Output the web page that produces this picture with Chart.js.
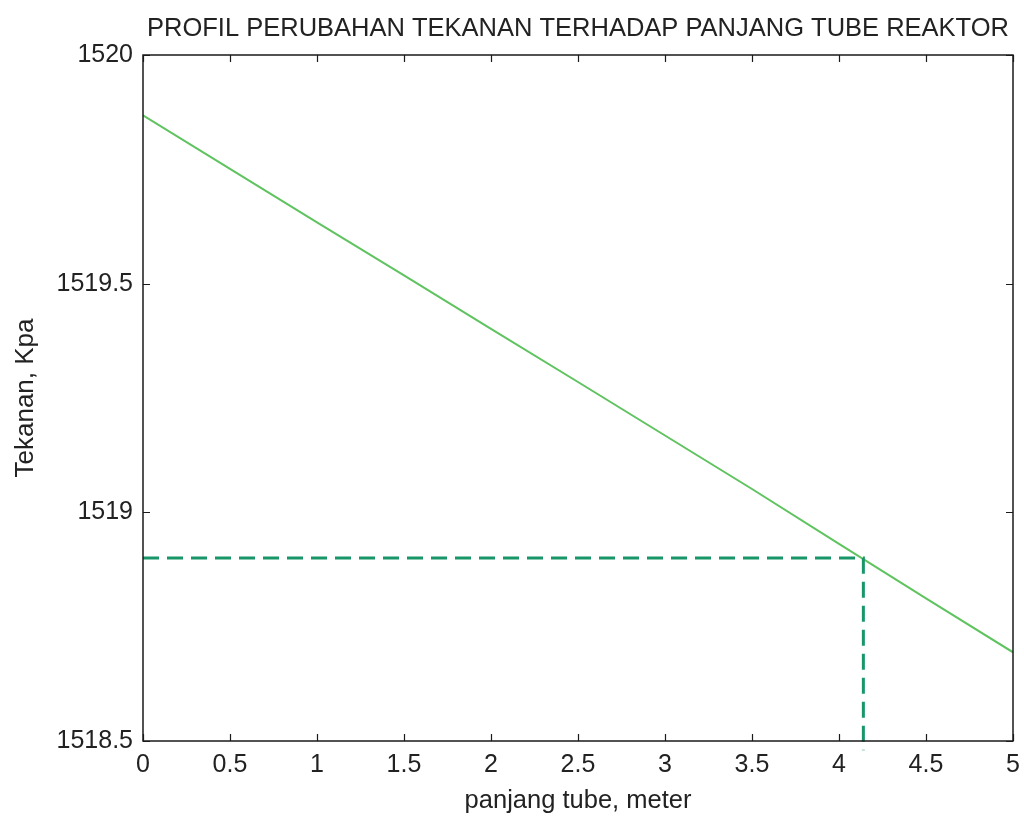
<!DOCTYPE html>
<html>
<head>
<meta charset="utf-8">
<title>Profil Perubahan Tekanan</title>
<script src="https://cdn.jsdelivr.net/npm/chart.js@4.4.1/dist/chart.umd.min.js"></script>
<style>
  html, body { margin: 0; padding: 0; background: #ffffff; }
  #wrap { width: 1024px; height: 816px; }
</style>
</head>
<body>
<div id="wrap"><canvas id="c" width="1024" height="816"></canvas></div>
<script>
// Pressure along the reactor tube
const panjangTube = [0, 0.5, 1, 1.5, 2, 2.5, 3, 3.5, 4, 4.5, 5];
const tekanan = [1519.868, 1519.751, 1519.634, 1519.518, 1519.401, 1519.285,
                 1519.168, 1519.051, 1518.931, 1518.812, 1518.694];

// Reference marker: outlet length where pressure reaches 1518.9 kPa
const markerX = [0, 4.14, 4.14];
const markerY = [1518.9, 1518.9, 1518.48];

const xTickLabels = ['0', '0.5', '1', '1.5', '2', '2.5', '3', '3.5', '4', '4.5', '5'];
const yTickLabels = ['1518.5', '1519', '1519.5', '1520'];
const xTickValues = [0, 0.5, 1, 1.5, 2, 2.5, 3, 3.5, 4, 4.5, 5];
const yTickValues = [1518.5, 1519, 1519.5, 1520];

const judul = 'PROFIL PERUBAHAN TEKANAN TERHADAP PANJANG TUBE REAKTOR';
const FONT = '"Liberation Sans", Arial, sans-serif';
const INK = '#222222';

// Boxed axes with inward tick marks on all four sides, plus the title
const boxPlugin = {
  id: 'boxAxes',
  afterDatasetsDraw(chart) {
    const { ctx, chartArea: a, scales } = chart;
    const x = scales.x, y = scales.y;
    const L = 7;
    ctx.save();
    ctx.strokeStyle = '#1a1a1a';
    ctx.lineWidth = 1.5;
    ctx.strokeRect(a.left, a.top, a.right - a.left, a.bottom - a.top);
    ctx.lineWidth = 1.2;
    ctx.beginPath();
    xTickValues.forEach(v => {
      const px = Math.round(x.getPixelForValue(v)) + 0.5;
      ctx.moveTo(px, a.bottom); ctx.lineTo(px, a.bottom - L);
      ctx.moveTo(px, a.top); ctx.lineTo(px, a.top + L);
    });
    yTickValues.forEach(v => {
      const py = Math.round(y.getPixelForValue(v)) + 0.5;
      ctx.moveTo(a.left, py); ctx.lineTo(a.left + L, py);
      ctx.moveTo(a.right, py); ctx.lineTo(a.right - L, py);
    });
    ctx.stroke();
    ctx.restore();
  },
  afterDraw(chart) {
    const { ctx, chartArea: a } = chart;
    ctx.save();
    ctx.fillStyle = INK;
    ctx.font = '25.5px ' + FONT;
    ctx.textAlign = 'center';
    ctx.textBaseline = 'middle';
    ctx.fillText(judul, (a.left + a.right) / 2, 29);
    ctx.restore();
  }
};

new Chart(document.getElementById('c'), {
  type: 'line',
  data: {
    datasets: [
      {
        label: 'Tekanan',
        data: panjangTube.map((v, i) => ({ x: v, y: tekanan[i] })),
        borderColor: 'rgb(95, 195, 95)',
        borderWidth: 2,
        pointRadius: 0,
        tension: 0,
        order: 2
      },
      {
        label: 'Penanda',
        data: markerX.map((v, i) => ({ x: v, y: markerY[i] })),
        borderColor: 'rgb(25, 150, 105)',
        borderWidth: 3,
        borderDash: [16, 8],
        pointRadius: 0,
        tension: 0,
        clip: false,
        order: 1
      }
    ]
  },
  options: {
    responsive: false,
    animation: false,
    devicePixelRatio: 1,
    layout: { padding: { left: 0, right: 11, top: 55, bottom: 0 } },
    plugins: {
      legend: { display: false },
      tooltip: { enabled: false },
      title: { display: false }
    },
    scales: {
      x: {
        type: 'linear',
        min: 0, max: 5,
        afterBuildTicks(scale) { scale.ticks = xTickValues.map(v => ({ value: v })); },
        afterFit(scale) {
          scale.height = 75;
          scale.paddingLeft = 0;
          scale.paddingRight = 0;
        },
        grid: { display: false, drawTicks: false },
        border: { display: false },
        ticks: {
          padding: 9,
          color: INK,
          font: { family: FONT, size: 25 },
          maxRotation: 0,
          autoSkip: false,
          callback: (v, i) => xTickLabels[i]
        },
        title: {
          display: true,
          text: 'panjang tube, meter',
          color: INK,
          font: { family: FONT, size: 25.5 },
          padding: { top: 0, bottom: 0 }
        }
      },
      y: {
        type: 'linear',
        min: 1518.5, max: 1520,
        afterBuildTicks(scale) { scale.ticks = yTickValues.map(v => ({ value: v })); },
        afterFit(scale) {
          scale.width = 143;
          scale.paddingTop = 0;
          scale.paddingBottom = 0;
        },
        grid: { display: false, drawTicks: false },
        border: { display: false },
        ticks: {
          padding: 10,
          color: INK,
          font: { family: FONT, size: 25 },
          autoSkip: false,
          callback: (v, i) => yTickLabels[i]
        },
        title: {
          display: true,
          text: 'Tekanan, Kpa',
          color: INK,
          font: { family: FONT, size: 26 },
          padding: { top: 10, bottom: 0 }
        }
      }
    }
  },
  plugins: [boxPlugin]
});
</script>
</body>
</html>
